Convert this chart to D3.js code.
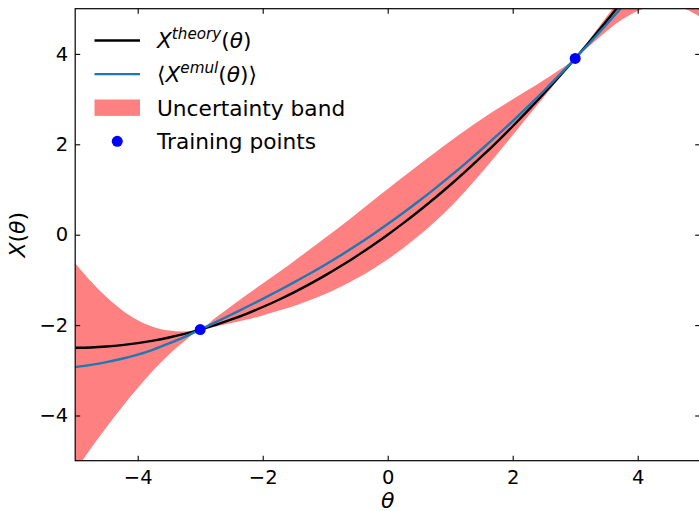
<!DOCTYPE html>
<html>
<head>
<meta charset="utf-8">
<script src="https://cdn.jsdelivr.net/npm/d3@7"></script>
<style>
  html, body { margin: 0; padding: 0; background: #fff; }
  svg { display: block; }
  text { font-family: "DejaVu Sans", sans-serif; fill: #000; }
</style>
</head>
<body>
<svg id="chart" width="699" height="511"></svg>
<script>
// Parameter grid θ and the curves sampled on it
const theta = [-5, -4.75, -4.5, -4.25, -4, -3.75, -3.5, -3.25, -3, -2.75, -2.5, -2.25, -2, -1.75, -1.5, -1.25, -1, -0.75, -0.5, -0.25,
  0, 0.25, 0.5, 0.75, 1, 1.25, 1.5, 1.75, 2, 2.25, 2.5, 2.75, 3, 3.25, 3.5, 3.75, 4, 4.25, 4.5, 4.75, 5];

// Exact model output X^theory(θ)
const theoryX = [-2.500, -2.494, -2.475, -2.444, -2.400, -2.344, -2.275, -2.194, -2.100, -1.994, -1.875, -1.744, -1.600, -1.444, -1.275, -1.094,
  -0.900, -0.694, -0.475, -0.244, 0.000, 0.256, 0.525, 0.806, 1.100, 1.406, 1.725, 2.056, 2.400, 2.756, 3.125, 3.506,
  3.900, 4.306, 4.725, 5.156, 5.600, 6.056, 6.525, 7.006, 7.500];

// Emulator mean <X^emul(θ)>
const emulMean = [-2.930, -2.880, -2.820, -2.745, -2.655, -2.540, -2.405, -2.260, -2.100, -1.935, -1.765, -1.595, -1.420, -1.240, -1.055, -0.865,
  -0.665, -0.455, -0.235, -0.005, 0.235, 0.485, 0.745, 1.015, 1.295, 1.585, 1.885, 2.195, 2.515, 2.845, 3.185, 3.535,
  3.900, 4.270, 4.650, 5.040, 5.440, 5.850, 6.270, 6.700, 7.140];

// Uncertainty band, lower and upper edges
const bandLow = [-5.23, -4.73, -4.26, -3.81, -3.39, -3.00, -2.65, -2.35, -2.10, -2.030, -1.955, -1.875, -1.785, -1.685, -1.575, -1.450,
  -1.310, -1.150, -0.970, -0.770, -0.545, -0.295, -0.020, 0.280, 0.610, 0.980, 1.370, 1.780, 2.200, 2.625, 3.045, 3.470,
  3.90, 4.20, 4.50, 4.76, 4.95, 5.06, 5.08, 5.00, 4.82];
const bandHigh = [-0.63, -1.03, -1.38, -1.67, -1.89, -2.04, -2.12, -2.14, -2.10, -1.830, -1.575, -1.325, -1.080, -0.835, -0.585, -0.330,
  -0.070, 0.195, 0.465, 0.740, 1.010, 1.280, 1.545, 1.805, 2.065, 2.315, 2.555, 2.780, 2.995, 3.205, 3.420, 3.650,
  3.90, 4.36, 4.82, 5.30, 5.87, 6.60, 7.40, 8.30, 9.30];

// Training points
const trainTheta = [-3, 3];
const trainX = [-2.10, 3.90];

// Axis ticks
const xTicks = [-4, -2, 0, 2, 4];
const yTicks = [-4, -2, 0, 2, 4];

const svg = d3.select("#chart");
const plot = { left: 75.2, right: 700.2, top: 8.7, bottom: 460.7 };

const x = d3.scaleLinear().domain([-5, 5]).range([plot.left, plot.right]);
const y = d3.scaleLinear().domain([-5, 5]).range([plot.bottom, plot.top]);

svg.append("defs").append("clipPath").attr("id", "plot-clip")
  .append("rect")
  .attr("x", plot.left).attr("y", plot.top)
  .attr("width", plot.right - plot.left).attr("height", plot.bottom - plot.top);

const rows = theta.map((t, i) => ({ t, th: theoryX[i], mu: emulMean[i], lo: bandLow[i], hi: bandHigh[i] }));

const g = svg.append("g").attr("clip-path", "url(#plot-clip)");

// Band
g.append("path")
  .datum(rows)
  .attr("fill", "#ff8080")
  .attr("stroke", "none")
  .attr("d", d3.area().curve(d3.curveCatmullRom)
    .x(d => x(d.t)).y0(d => y(d.lo)).y1(d => y(d.hi)));

// Theory curve
g.append("path")
  .datum(rows)
  .attr("fill", "none").attr("stroke", "#000").attr("stroke-width", 2.4)
  .attr("d", d3.line().curve(d3.curveNatural).x(d => x(d.t)).y(d => y(d.th)));

// Emulator mean
g.append("path")
  .datum(rows)
  .attr("fill", "none").attr("stroke", "#1f77b4").attr("stroke-width", 2.4)
  .attr("d", d3.line().curve(d3.curveNatural).x(d => x(d.t)).y(d => y(d.mu)));

// Training points
g.selectAll("circle.train")
  .data(trainTheta.map((t, i) => ({ t, v: trainX[i] })))
  .join("circle")
  .attr("class", "train")
  .attr("cx", d => x(d.t)).attr("cy", d => y(d.v)).attr("r", 5.5)
  .attr("fill", "#0000ff");

// Axes with inward ticks on all four sides
const tickFont = 19.5;
function styleAxis(sel) {
  sel.select(".domain").remove();
  sel.selectAll(".tick line").attr("stroke", "#000").attr("stroke-width", 1.1);
  sel.selectAll(".tick text").attr("font-size", tickFont).attr("font-family", "DejaVu Sans");
}

svg.append("g").attr("transform", `translate(0,${plot.bottom})`)
  .call(d3.axisBottom(x).tickValues(xTicks).tickSizeInner(-5).tickSizeOuter(0).tickPadding(9))
  .call(styleAxis);
svg.append("g").attr("transform", `translate(0,${plot.top})`)
  .call(d3.axisTop(x).tickValues(xTicks).tickSizeInner(-5).tickSizeOuter(0).tickFormat(""))
  .call(styleAxis);
svg.append("g").attr("transform", `translate(${plot.left},0)`)
  .call(d3.axisLeft(y).tickValues(yTicks).tickSizeInner(-5).tickSizeOuter(0).tickPadding(7))
  .call(styleAxis);
svg.append("g").attr("transform", `translate(${plot.right},0)`)
  .call(d3.axisRight(y).tickValues(yTicks).tickSizeInner(-5).tickSizeOuter(0).tickFormat(""))
  .call(styleAxis);

// Frame
svg.append("rect")
  .attr("x", plot.left).attr("y", plot.top)
  .attr("width", plot.right - plot.left).attr("height", plot.bottom - plot.top)
  .attr("fill", "none").attr("stroke", "#000").attr("stroke-width", 1.2);

// Axis labels
svg.append("text")
  .attr("x", x(0)).attr("y", 507.5)
  .attr("text-anchor", "middle").attr("font-size", 22).attr("font-style", "italic")
  .text("θ");

const yl = svg.append("text")
  .attr("transform", `translate(25,${y(0)}) rotate(-90)`)
  .attr("text-anchor", "middle").attr("font-size", 22);
yl.append("tspan").attr("font-style", "italic").text("X");
yl.append("tspan").text("(");
yl.append("tspan").attr("font-style", "italic").text("θ");
yl.append("tspan").text(")");

// Legend
const legFont = 21.7;
const legX0 = 94.5, legX1 = 140, legText = 157;
const legRows = [0, 1, 2, 3].map(i => 40.5 + i * 33.6);
const leg = svg.append("g");

leg.append("line").attr("x1", legX0).attr("x2", legX1).attr("y1", legRows[0]).attr("y2", legRows[0])
  .attr("stroke", "#000").attr("stroke-width", 2.4);
leg.append("line").attr("x1", legX0).attr("x2", legX1).attr("y1", legRows[1]).attr("y2", legRows[1])
  .attr("stroke", "#1f77b4").attr("stroke-width", 2.4);
leg.append("rect").attr("x", legX0).attr("y", legRows[2] - 8.2).attr("width", legX1 - legX0).attr("height", 16.4)
  .attr("fill", "#ff8080");
leg.append("circle").attr("cx", (legX0 + legX1) / 2).attr("cy", legRows[3]).attr("r", 5.5).attr("fill", "#0000ff");

function mathLabel(row, sup, brackets) {
  const t = leg.append("text").attr("x", legText).attr("y", row).attr("dy", "0.36em")
    .attr("font-size", legFont);
  if (brackets) t.append("tspan").text("⟨");
  t.append("tspan").attr("font-style", "italic").text("X");
  t.append("tspan").attr("font-style", "italic").attr("font-size", legFont * 0.7).attr("dy", -9).text(sup);
  t.append("tspan").attr("dy", 9).text("(");
  t.append("tspan").attr("font-style", "italic").text("θ");
  t.append("tspan").text(")");
  if (brackets) t.append("tspan").text("⟩");
}
mathLabel(legRows[0], "theory", false);
mathLabel(legRows[1], "emul", true);
leg.append("text").attr("x", legText).attr("y", legRows[2]).attr("dy", "0.36em").attr("font-size", legFont)
  .text("Uncertainty band");
leg.append("text").attr("x", legText).attr("y", legRows[3]).attr("dy", "0.36em").attr("font-size", legFont)
  .text("Training points");
</script>
</body>
</html>
